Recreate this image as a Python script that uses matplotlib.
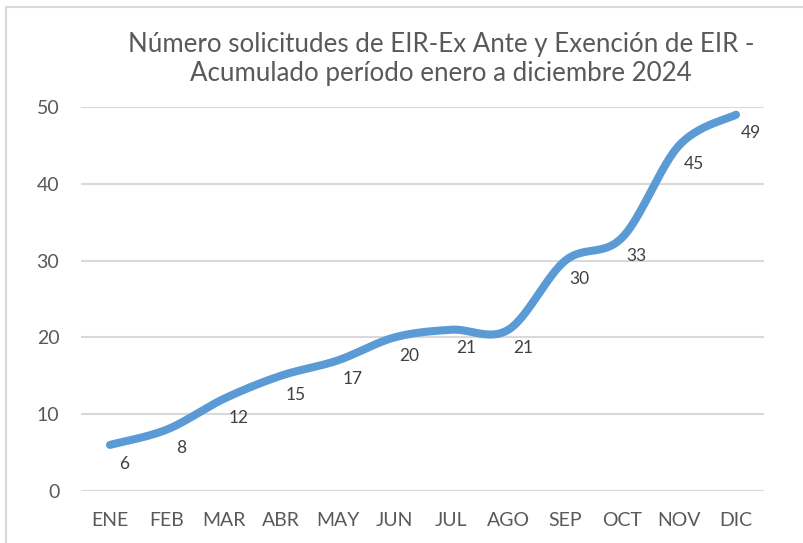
import numpy as np
import matplotlib
matplotlib.use("Agg")
import matplotlib.pyplot as plt
from matplotlib.patches import Rectangle

months = ["ENE", "FEB", "MAR", "ABR", "MAY", "JUN", "JUL", "AGO", "SEP", "OCT", "NOV", "DIC"]
values = [6, 8, 12, 15, 17, 20, 21, 21, 30, 33, 45, 49]
title = "Número solicitudes de EIR-Ex Ante y Exención de EIR -\nAcumulado período enero a diciembre 2024"

plt.rcParams['font.family'] = ['Lato', 'DejaVu Sans']
W, H = 804, 543
fig = plt.figure(figsize=(W / 100, H / 100), dpi=100)
fig.patch.set_facecolor("white")

# outer chart border (partially visible)
fig.add_artist(Rectangle((6 / W, -0.05), 2.0, 1.05 - 7 / H, transform=fig.transFigure,
                         fill=False, edgecolor="#D9D9D9", linewidth=1.5))

ax = fig.add_axes([81.5 / W, (H - 491) / H, (764.5 - 81.5) / W, (491 - 107) / H])
x = np.arange(len(values))
y = np.array(values, dtype=float)

# Catmull-Rom style smoothing (Excel smoothed line)
def smooth(xp, yp, n=30):
    px = np.concatenate([[xp[0]], xp, [xp[-1]]])
    py = np.concatenate([[yp[0]], yp, [yp[-1]]])
    xs, ys = [], []
    for i in range(1, len(px) - 2):
        p0, p1, p2, p3 = (np.array([px[j], py[j]]) for j in (i - 1, i, i + 1, i + 2))
        c1 = p1 + (p2 - p0) / 6
        c2 = p2 - (p3 - p1) / 6
        t = np.linspace(0, 1, n)[:, None]
        b = (1 - t) ** 3 * p1 + 3 * (1 - t) ** 2 * t * c1 + 3 * (1 - t) * t ** 2 * c2 + t ** 3 * p2
        xs.append(b[:, 0]); ys.append(b[:, 1])
    return np.concatenate(xs), np.concatenate(ys)

sx, sy = smooth(x.astype(float), y)
ax.plot(sx, sy, color="#5B9BD5", linewidth=5.8, solid_capstyle="round", zorder=3)

for xi, yi in zip(x, values):
    ax.annotate(str(yi), (xi, yi), xytext=(10.5, -13.5), textcoords="offset points",
                ha="center", va="center", fontsize=12.5, color="#404040",
                fontweight="normal", zorder=4)

ax.set_xlim(-0.5, len(values) - 0.5)
ax.set_ylim(0, 50)
ax.set_yticks(range(0, 51, 10))
ax.set_xticks(x)
ax.set_xticklabels(months)
ax.yaxis.grid(True, color="#D9D9D9", linewidth=1.5)
ax.set_axisbelow(True)
for s in ax.spines.values():
    s.set_visible(False)
ax.tick_params(axis="both", length=0, labelsize=14, labelcolor="#595959")
ax.tick_params(axis="y", pad=16)
ax.tick_params(axis="x", pad=15)

fig.text(441 / W, 1 - 59 / H, title, ha="center", va="center", fontsize=18.6,
         color="#595959", fontweight="normal", linespacing=1.2)

fig.savefig("out.png", dpi=100)
